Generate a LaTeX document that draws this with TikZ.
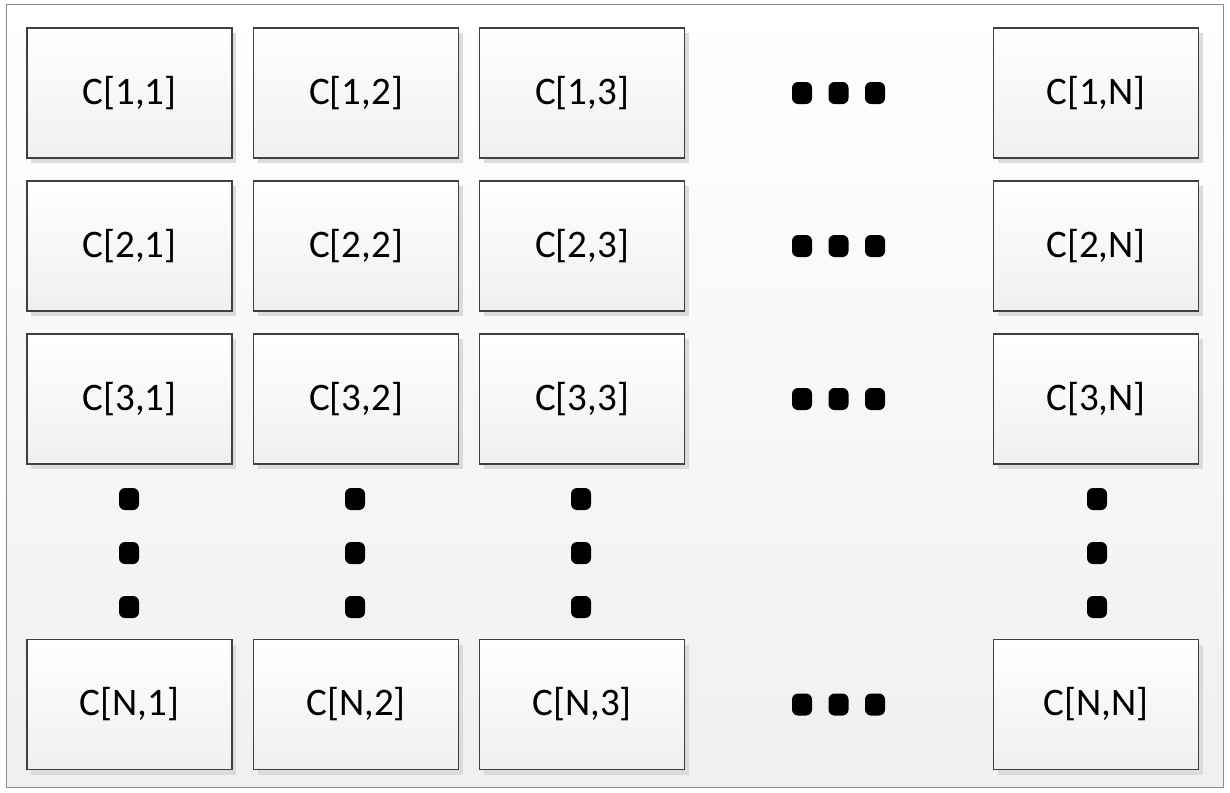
\documentclass[tikz,border=0pt]{standalone}
\usepackage{fontspec}
\setmainfont{Carlito}
\usetikzlibrary{shadows}
\definecolor{boxline}{HTML}{404040}
\definecolor{frameline}{HTML}{8A8A8A}
\tikzset{
  cell/.style={draw=boxline, line width=1.2pt, minimum width=205pt, minimum height=130pt,
    top color=white, bottom color=black!6, font=\fontsize{39}{39}\selectfont, inner sep=0pt,
    drop shadow={shadow xshift=4pt, shadow yshift=-5pt, fill=black!14, opacity=1}},
  dotm/.style={fill=black, rounded corners=6pt, minimum width=20pt, minimum height=22pt, inner sep=0pt}
}
\begin{document}
\begin{tikzpicture}[x=1pt,y=-1pt]
\useasboundingbox (0,0) rectangle (1230,792);
\node[draw=frameline, line width=1pt, top color=white, bottom color=black!6, minimum width=1217pt, minimum height=782pt, inner sep=0pt] (frame) at (614.5,396) {};
% cells
\foreach \r/\ry/\rl in {1/93/1, 2/246/2, 3/399/3, 4/704.5/N}{
  \foreach \c/\cx/\cl in {1/129.5/1, 2/356/2, 3/582/3, 4/1096/N}{
    \node[cell] (c\r\c) at (\cx,\ry) {C[\rl,\cl]};
  }
  \foreach \d/\dx in {1/802, 2/838.5, 3/875}{
    \node[dotm] (h\r\d) at (\dx,\ry) {};
  }
}
\foreach \c/\cx in {1/129, 2/355, 3/581, 4/1097}{
  \foreach \d/\dy in {1/499, 2/553, 3/607}{
    \node[dotm] (v\c\d) at (\cx,\dy) {};
  }
}
\end{tikzpicture}
\end{document}
